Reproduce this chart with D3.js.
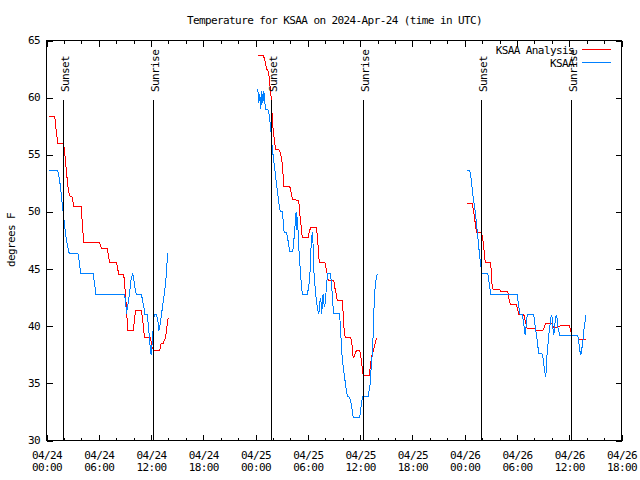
<!DOCTYPE html>
<html><head><meta charset="utf-8">
<script src="https://cdn.jsdelivr.net/npm/d3@7"></script>
<style>
body{margin:0;background:#fff}
svg text{font-family:"DejaVu Sans Mono","Liberation Mono",monospace;font-size:11px;letter-spacing:-0.6px;fill:#000}
</style></head><body><svg id="c" width="640" height="480"></svg>
<script>
// ---- data (hours since 2024-04-24 00:00 UTC, degrees F) ----
const baseUtc = Date.UTC(2024, 3, 24, 0, 0);
const xDomainHours = [0, 66];
const yDomain = [30, 65];
const yTicks = [30, 35, 40, 45, 50, 55, 60, 65];
const xMajorHours = [0, 6, 12, 18, 24, 30, 36, 42, 48, 54, 60, 66];
const xMinorHours = d3.range(0, 67, 2);
const sunsetHours = [1.92, 25.88, 49.96];
const sunriseHours = [12.28, 36.33, 60.3];
const titleText = "Temperature for KSAA on 2024-Apr-24 (time in UTC)";
const yLabel = "degrees F";
const seriesNames = ["KSAA Analysis", "KSAA"];

const analysisDay1 = [[0.26,58.35],[0.95,58.35],[1.11,57.1],[1.30,56.0],[1.92,56.0],[2.07,55.4],[2.18,54.4],[2.33,53.2],[2.49,52.0],[2.64,51.4],[2.95,51.3],[3.13,50.5],[3.98,50.5],[4.21,47.9],[4.21,47.35],[6.05,47.35],[6.2,47.06],[6.3,46.8],[6.97,46.8],[7.1,46.2],[7.23,45.6],[8.03,45.6],[8.3,44.5],[8.87,44.5],[9.07,42.8],[9.26,40.5],[9.33,39.6],[9.95,39.6],[10.1,40.5],[10.22,41.4],[10.9,41.4],[11.05,40.5],[11.25,39.0],[11.94,39.0],[12.1,38.2],[12.32,37.9],[13.0,37.9],[13.17,38.5],[13.4,38.5],[13.66,39.0],[13.85,40.1],[13.97,40.7]];
const analysisDay2 = [[24.25,63.7],[24.87,63.7],[25.02,63.4],[25.14,63.0],[25.25,62.5],[25.4,62.4],[25.52,62.1],[25.63,61.2],[25.79,60.0],[25.91,58.3],[26.02,57.1],[26.17,56.25],[26.29,55.5],[26.66,55.5],[26.86,55.1],[26.97,54.65],[27.12,53.9],[27.2,52.2],[27.93,52.2],[28.09,51.7],[28.24,51.1],[28.96,51.0],[29.07,49.8],[29.24,48.7],[29.35,47.8],[30.04,47.8],[30.15,48.2],[30.3,48.6],[30.96,48.6],[31.07,48.1],[31.19,46.9],[31.3,45.6],[31.94,45.6],[32.06,45.2],[32.22,44.6],[32.33,44.0],[32.98,44.0],[33.09,43.4],[33.25,42.8],[33.37,42.25],[33.94,42.25],[34.06,41.1],[34.17,39.6],[34.29,39.0],[34.93,39.0],[35.04,38.6],[35.16,37.4],[35.27,37.3],[35.43,37.6],[35.58,37.9],[35.96,37.9],[36.08,37.3],[36.24,36.4],[36.35,35.7],[37.04,35.7],[37.19,36.55],[37.3,37.3],[37.42,37.6],[37.57,38.0],[37.73,38.5],[37.88,39.0]];
const analysisDay3 = [[48.21,50.7],[48.86,50.7],[49.01,50.1],[49.13,49.55],[49.24,48.8],[49.36,48.2],[49.93,48.2],[50.08,47.65],[50.2,46.8],[50.31,45.9],[50.39,45.55],[50.96,45.55],[51.08,44.6],[51.16,43.4],[51.27,43.2],[52.03,43.2],[52.15,43.0],[52.95,43.0],[53.07,42.4],[53.26,41.9],[53.95,41.9],[54.06,41.5],[54.21,41.0],[54.79,41.0],[54.98,40.35],[55.18,39.8],[56.13,39.8],[56.24,39.6],[56.97,39.6],[57.13,39.9],[57.28,40.2],[58.05,40.2],[58.2,39.9],[58.62,39.9],[58.8,40.0],[59.11,40.06],[60.03,40.06],[60.18,39.6],[60.26,39.2],[60.92,39.2],[61.1,38.9],[61.3,38.8],[61.95,38.8]];

const obsDay1 = [[0.26,53.6],[1.30,53.6],[1.41,53.2],[1.53,52.6],[1.64,52.0],[1.76,51.0],[1.87,50.3],[1.99,49.4],[2.1,48.7],[2.22,47.9],[2.33,47.35],[2.44,46.9],[2.6,46.4],[3.59,46.4],[3.71,45.9],[3.82,45.2],[3.94,44.6],[5.36,44.6],[5.48,43.85],[5.59,43.3],[5.66,42.8],[8.95,42.8],[9.07,42.25],[9.18,41.1],[9.3,41.7],[9.41,42.25],[9.53,42.8],[9.64,43.7],[9.76,44.3],[9.91,44.6],[10.02,44.15],[10.14,43.4],[10.3,42.8],[10.9,42.8],[11.02,42.25],[11.17,41.7],[11.28,41.0],[11.56,41.0],[11.67,40.2],[11.79,39.2],[11.9,38.2],[12.02,37.45],[12.13,38.5],[12.25,39.9],[12.36,41.0],[12.63,41.0],[12.78,40.5],[12.89,39.6],[13.05,40.2],[13.17,40.9],[13.32,41.7],[13.46,42.5],[13.62,43.4],[13.77,44.6],[13.89,46.4]];
const obsDay2 = [[24.25,60.8],[24.37,59.5],[24.48,60.35],[24.6,59.0],[24.71,60.6],[24.83,59.5],[24.94,60.6],[25.06,59.6],[25.17,59.0],[25.4,59.0],[25.52,58.7],[25.63,58.0],[25.75,57.3],[25.83,56.25],[25.94,55.4],[26.06,54.65],[26.17,53.9],[26.29,53.2],[26.4,52.45],[26.52,51.7],[26.63,51.0],[26.75,50.4],[26.86,50.0],[27.05,50.0],[27.17,49.25],[27.28,48.2],[27.55,48.2],[27.66,47.8],[27.78,47.2],[27.93,46.5],[28.27,46.5],[28.39,47.5],[28.5,48.4],[28.58,49.55],[28.66,50.0],[28.73,48.4],[28.81,49.55],[28.93,47.2],[29.04,45.9],[29.16,44.6],[29.27,43.4],[29.38,42.8],[29.92,42.8],[30.07,43.3],[30.19,44.0],[30.3,45.5],[30.38,47.2],[30.5,48.2],[30.57,48.2],[30.61,46.3],[30.68,44.9],[30.8,43.7],[30.91,42.7],[31.03,42.0],[31.14,41.4],[31.26,41.1],[31.37,42.0],[31.45,42.5],[31.53,42.0],[31.6,41.1],[31.68,42.5],[31.76,42.8],[31.83,42.0],[31.94,41.7],[32.06,42.7],[32.17,43.85],[32.29,44.6],[32.6,44.6],[32.71,43.7],[32.83,42.5],[32.94,41.1],[33.63,41.1],[33.75,39.9],[33.83,38.5],[33.94,37.3],[34.06,36.4],[34.17,35.8],[34.29,35.1],[34.4,34.5],[34.52,33.9],[34.74,33.8],[34.89,33.5],[35.04,32.9],[35.2,32.05],[35.96,32.05],[36.08,32.8],[36.19,33.5],[36.31,33.85],[36.93,33.85],[37.04,34.4],[37.16,34.95],[37.27,36.4],[37.39,37.6],[37.5,39.3],[37.57,41.1],[37.65,42.8],[37.76,43.7],[37.88,44.3],[37.96,44.6]];
const obsDay3 = [[48.21,53.6],[48.59,53.6],[48.7,53.2],[48.82,52.3],[48.93,51.6],[49.05,50.85],[49.16,50.3],[49.28,49.55],[49.39,48.7],[49.51,47.8],[49.62,46.9],[49.74,46.0],[49.85,45.3],[49.97,44.6],[50.65,44.6],[50.77,44.0],[50.88,43.4],[51.0,42.8],[54.03,42.8],[54.14,42.1],[54.26,41.5],[54.37,41.0],[54.6,41.0],[54.72,40.5],[54.83,39.9],[54.95,39.2],[55.06,40.06],[55.18,41.0],[55.93,41.0],[56.05,40.2],[56.16,39.6],[56.28,39.0],[56.39,38.3],[56.51,37.6],[56.85,37.6],[56.97,37.3],[57.08,36.7],[57.2,36.0],[57.31,35.55],[57.43,37.3],[57.54,38.2],[57.66,39.3],[57.77,39.9],[57.89,40.8],[58.0,41.0],[58.12,39.9],[58.23,39.2],[58.35,40.2],[58.46,40.8],[58.57,41.0],[58.69,39.9],[58.8,39.6],[58.92,39.2],[60.98,39.2],[61.1,38.6],[61.21,37.9],[61.33,37.45],[61.44,38.0],[61.56,38.6],[61.67,39.6],[61.79,40.2],[61.9,41.0]];

const seriesColors = ["#ff0000", "#0080ff"];

// ---- drawing ----
const svg = d3.select("#c");
const L = 46, R = 621, T = 40, B = 440;
const hourToDate = h => new Date(baseUtc + h * 3600e3);
const x = d3.scaleUtc().domain(xDomainHours.map(hourToDate)).range([L, R]);
const y = d3.scaleLinear().domain(yDomain).range([B, T]);

const plot = svg.append("g").attr("transform", "translate(0.5,0.5)");

// data lines
const line = d3.line().x(d => x(hourToDate(d[0]))).y(d => y(d[1]));
const analysisSegments = [analysisDay1, analysisDay2, analysisDay3];
const obsSegments = [obsDay1, obsDay2, obsDay3];
[analysisSegments, obsSegments].forEach((segs, i) => {
  plot.append("g").selectAll("path").data(segs).join("path")
    .attr("d", line).attr("fill", "none")
    .attr("stroke", seriesColors[i]).attr("stroke-width", 1)
    .attr("shape-rendering", "crispEdges");
});

// axes
const majorDates = xMajorHours.map(hourToDate);
const minorDates = xMinorHours.filter(h => !xMajorHours.includes(h)).map(hourToDate);
const axesG = plot.append("g").attr("shape-rendering", "crispEdges");
function styleAxis(g){ g.select(".domain").remove(); g.selectAll("line").attr("stroke","#000"); }
axesG.append("g").attr("transform", `translate(0,${B})`)
  .call(d3.axisBottom(x).tickValues(majorDates).tickSize(-6).tickSizeOuter(0).tickFormat(""))
  .call(styleAxis);
axesG.append("g").attr("transform", `translate(0,${B})`)
  .call(d3.axisBottom(x).tickValues(minorDates).tickSize(-3).tickSizeOuter(0).tickFormat(""))
  .call(styleAxis);
axesG.append("g").attr("transform", `translate(0,${T})`)
  .call(d3.axisTop(x).tickValues(majorDates).tickSize(-6).tickSizeOuter(0).tickFormat(""))
  .call(styleAxis);
axesG.append("g").attr("transform", `translate(0,${T})`)
  .call(d3.axisTop(x).tickValues(minorDates).tickSize(-3).tickSizeOuter(0).tickFormat(""))
  .call(styleAxis);
axesG.append("g").attr("transform", `translate(${L},0)`)
  .call(d3.axisLeft(y).tickValues(yTicks).tickSize(-6).tickSizeOuter(0).tickFormat(""))
  .call(styleAxis);
axesG.append("g").attr("transform", `translate(${R},0)`)
  .call(d3.axisRight(y).tickValues(yTicks).tickSize(-6).tickSizeOuter(0).tickFormat(""))
  .call(styleAxis);
axesG.append("rect").attr("x", L).attr("y", T).attr("width", R - L).attr("height", B - T)
  .attr("fill", "none").attr("stroke", "#000");

// tick labels
const fmtDay = d3.utcFormat("%m/%d"), fmtTime = d3.utcFormat("%H:%M");
svg.append("g").selectAll("text").data(yTicks).join("text")
  .attr("x", 40).attr("y", d => y(d) + 4).attr("text-anchor", "end").text(d => d);
const xl = svg.append("g").selectAll("text").data(majorDates).join("text")
  .attr("text-anchor", "middle");
xl.append("tspan").attr("x", d => x(d) + 1).attr("y", 458.5).text(fmtDay);
xl.append("tspan").attr("x", d => x(d) + 1).attr("y", 471).text(fmtTime);

// title and y label
svg.append("text").attr("x", (L + R) / 2 + 1).attr("y", 24).attr("text-anchor", "middle").text(titleText);
svg.append("text").attr("transform", "translate(15,240) rotate(-90)").attr("text-anchor", "middle").text(yLabel);

// legend
seriesNames.forEach((name, i) => {
  const ly = 49.5 + i * 13;
  svg.append("text").attr("x", 574).attr("y", ly + 4.5).attr("text-anchor", "end").text(name);
  plot.append("line").attr("x1", 581).attr("x2", 610).attr("y1", Math.floor(ly)).attr("y2", Math.floor(ly))
    .attr("stroke", seriesColors[i]).attr("shape-rendering", "crispEdges");
});

// sunset / sunrise markers
const sunEvents = sunsetHours.map(h => ({h, label: "Sunset"}))
  .concat(sunriseHours.map(h => ({h, label: "Sunrise"})));
sunEvents.forEach(ev => {
  const xp = Math.round(x(hourToDate(ev.h)));
  plot.append("line").attr("x1", xp).attr("x2", xp).attr("y1", 99).attr("y2", B)
    .attr("stroke", "#000").attr("shape-rendering", "crispEdges");
  svg.append("text").attr("transform", `translate(${xp + 6},92) rotate(-90)`)
    .attr("text-anchor", "start").text(ev.label);
});
</script></body></html>
